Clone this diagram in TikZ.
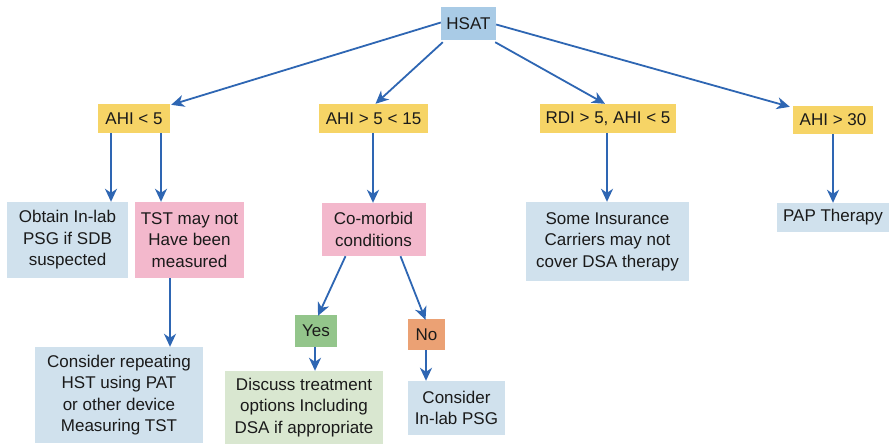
\documentclass[tikz,border=0pt]{standalone}
\usepackage{fontspec}
\setmainfont{Liberation Sans}
\usetikzlibrary{arrows.meta}
\definecolor{hsatc}{HTML}{A9CBE6}
\definecolor{yel}{HTML}{F6D466}
\definecolor{lblue}{HTML}{D0E1ED}
\definecolor{pinkc}{HTML}{F3B8CC}
\definecolor{greenc}{HTML}{93C58B}
\definecolor{orangec}{HTML}{EBA174}
\definecolor{lgreen}{HTML}{D9E7D0}
\definecolor{arrc}{HTML}{2E66B3}
\definecolor{txt}{HTML}{1A1A1A}
\begin{document}
\begin{tikzpicture}[x=1pt,y=-1pt,
  box/.style={inner sep=0pt, align=center, text=txt, font=\fontsize{17}{21.5}\selectfont},
  arr/.style={draw=arrc, line width=1.8pt, -{Stealth[length=13pt,width=12pt,inset=4pt]}}]
\useasboundingbox[fill=white] (0,0) rectangle (890,445);
\node[box, fill=hsatc, minimum width=55pt, minimum height=33pt] (hsat) at (468.5,23.5) {HSAT};
\node[box, fill=yel, minimum width=72pt, minimum height=29pt] (a1) at (134,118.5) {AHI < 5};
\node[box, fill=yel, minimum width=109pt, minimum height=29pt] (a2) at (373.5,118.5) {AHI > 5 < 15};
\node[box, fill=yel, minimum width=136pt, minimum height=29pt] (a3) at (608,118.5) {RDI > 5, AHI < 5};
\node[box, fill=yel, minimum width=80pt, minimum height=28pt] (a4) at (833,120) {AHI > 30};
\node[box, fill=lblue, minimum width=121pt, minimum height=76pt] (obt) at (67.5,240) {Obtain In-lab\\PSG if SDB\\suspected};
\node[box, fill=pinkc, minimum width=109pt, minimum height=76pt] (tst) at (189.5,240) {TST may not\\Have been\\measured};
\node[box, fill=pinkc, minimum width=104pt, minimum height=53pt] (com) at (373.5,229.5) {Co-morbid\\conditions};
\node[box, fill=lblue, minimum width=163pt, minimum height=79pt] (ins) at (607.5,241.5) {Some Insurance\\Carriers may not\\cover DSA therapy};
\node[box, fill=lblue, minimum width=112pt, minimum height=29pt] (pap) at (833,217.5) {PAP Therapy};
\node[box, fill=lblue, minimum width=168pt, minimum height=96pt] (rep) at (119,395) {Consider repeating\\HST using PAT\\or other device\\Measuring TST};
\node[box, fill=greenc, minimum width=42pt, minimum height=32pt] (yes) at (316,331) {Yes};
\node[box, fill=orangec, minimum width=37pt, minimum height=31pt] (no) at (426.5,334.5) {No};
\node[box, fill=lgreen, minimum width=158pt, minimum height=73pt] (dis) at (304,407.5) {Discuss treatment\\options Including\\DSA if appropriate};
\node[box, fill=lblue, minimum width=97pt, minimum height=54pt] (cil) at (456.5,408) {Consider\\In-lab PSG};
\draw[arr] ([yshift=1pt]hsat.west) -- ([xshift=1pt,yshift=-1pt]a1.north east);
\draw[arr] ([xshift=2pt,yshift=-2pt]hsat.south west) -- ([xshift=2pt]a2.north);
\draw[arr] ([xshift=-1pt,yshift=-2pt]hsat.south east) -- ([xshift=-3pt]a3.north);
\draw[arr] ([yshift=-1pt]hsat.east) -- ([xshift=-3pt,yshift=-1pt]a4.north west);
\draw[arr] ([xshift=-23pt]a1.south) -- ([xshift=-23pt]a1.south |- obt.north);
\draw[arr] ([xshift=27pt]a1.south) -- ([xshift=27pt]a1.south |- tst.north);
\draw[arr] ([xshift=-19.5pt]tst.south) -- ([xshift=-19.5pt]tst.south |- rep.north);
\draw[arr] ([xshift=-0.5pt]a2.south) -- ([xshift=-0.5pt]com.north);
\draw[arr] ([xshift=-28pt]com.south) -- ([xshift=2pt,yshift=-1pt]yes.north);
\draw[arr] ([xshift=27pt]com.south) -- ([xshift=-1pt,yshift=-1pt]no.north);
\draw[arr] ([xshift=-1pt]yes.south) -- ([xshift=-1pt]yes.south |- dis.north);
\draw[arr] ([xshift=-0.5pt]no.south) -- ([xshift=-0.5pt]no.south |- cil.north);
\draw[arr] ([xshift=-1pt]a3.south) -- ([xshift=-1pt]a3.south |- ins.north);
\draw[arr] (a4.south) -- (a4.south |- pap.north);
\end{tikzpicture}
\end{document}
